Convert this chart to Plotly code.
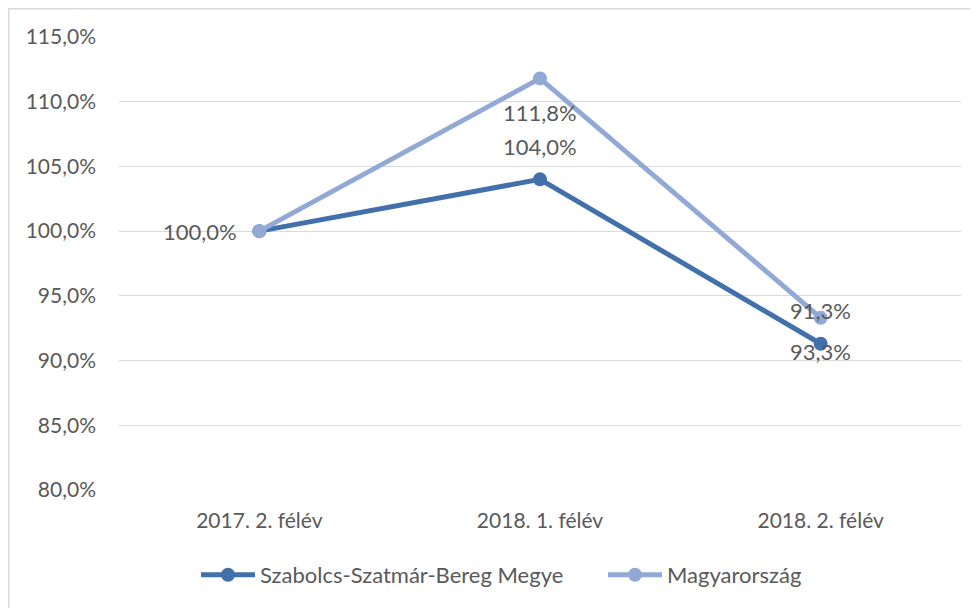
import plotly.graph_objects as go

categories = ["2017. 2. félév", "2018. 1. félév", "2018. 2. félév"]
szabolcs = [100.0, 104.0, 91.3]
magyar = [100.0, 111.8, 93.3]
series_names = ["Szabolcs-Szatmár-Bereg Megye", "Magyarország"]
y_ticks = [80, 85, 90, 95, 100, 105, 110, 115]

dark = "#4270AA"
light = "#92A9D6"
txt = "#595959"
font = "Lato"

def fmt(v):
    return f"{v:.1f}".replace(".", ",") + "%"

fig = go.Figure()
fig.add_trace(go.Scatter(x=categories, y=szabolcs, name=series_names[0], mode="lines+markers",
                         line=dict(color=dark, width=5), marker=dict(size=14, color=dark)))
fig.add_trace(go.Scatter(x=categories, y=magyar, name=series_names[1], mode="lines+markers",
                         line=dict(color=light, width=5), marker=dict(size=14, color=light)))

# data labels
for i, (c, v) in enumerate(zip(categories, szabolcs)):
    if i == 0:
        fig.add_annotation(x=c, y=v, text=fmt(v), showarrow=False, xanchor="right",
                           xshift=-20, font=dict(family=font, size=22, color=txt))
    else:
        fig.add_annotation(x=c, y=v, text=fmt(v), showarrow=False, yshift=33,
                           font=dict(family=font, size=22, color=txt))
for i, (c, v) in enumerate(zip(categories, magyar)):
    if i == 0:
        continue
    fig.add_annotation(x=c, y=v, text=fmt(v), showarrow=False, yshift=-34,
                       font=dict(family=font, size=22, color=txt))

OFF = 8  # page body margin
W, H = 978 - OFF, 608 - OFF
L, T = 119 - OFF, 37 - OFF
R = 978 - 961
B = 608 - 490
pw, ph = W - L - R, H - T - B

def px(xv):
    return (xv - OFF - L) / pw

def py(yv):
    return (T + ph - (yv - OFF)) / ph

fig.add_shape(type="rect", xref="paper", yref="paper",
              x0=px(8.75), x1=px(977), y0=py(620), y1=py(8.75),
              line=dict(color="#D9D9D9", width=1.5), fillcolor="rgba(0,0,0,0)", layer="below")

fig.update_layout(
    width=W, height=H,
    margin=dict(l=L, r=R, t=T, b=B, autoexpand=False),
    paper_bgcolor="white", plot_bgcolor="white",
    font=dict(family=font, size=21, color=txt),
    showlegend=True,
    legend=dict(orientation="h", x=px(196), xanchor="left", y=py(575), yanchor="middle",
                font=dict(family=font, size=22, color=txt), itemwidth=54, entrywidth=338,
                bgcolor="rgba(0,0,0,0)"),
    xaxis=dict(type="category", range=[-0.5, 2.5], showgrid=False, zeroline=False, showline=False,
               automargin=False, ticks="", ticklabelstandoff=16,
               tickfont=dict(family=font, size=21, color=txt)),
    yaxis=dict(range=[80, 115], tickvals=y_ticks, ticktext=[fmt(v) for v in y_ticks],
               showgrid=True, gridcolor="#D9D9D9", gridwidth=1.3, zeroline=False, showline=False,
               automargin=False, ticks="", ticklabelstandoff=22,
               tickfont=dict(family=font, size=21, color=txt)),
)

fig.write_html("out.html")
